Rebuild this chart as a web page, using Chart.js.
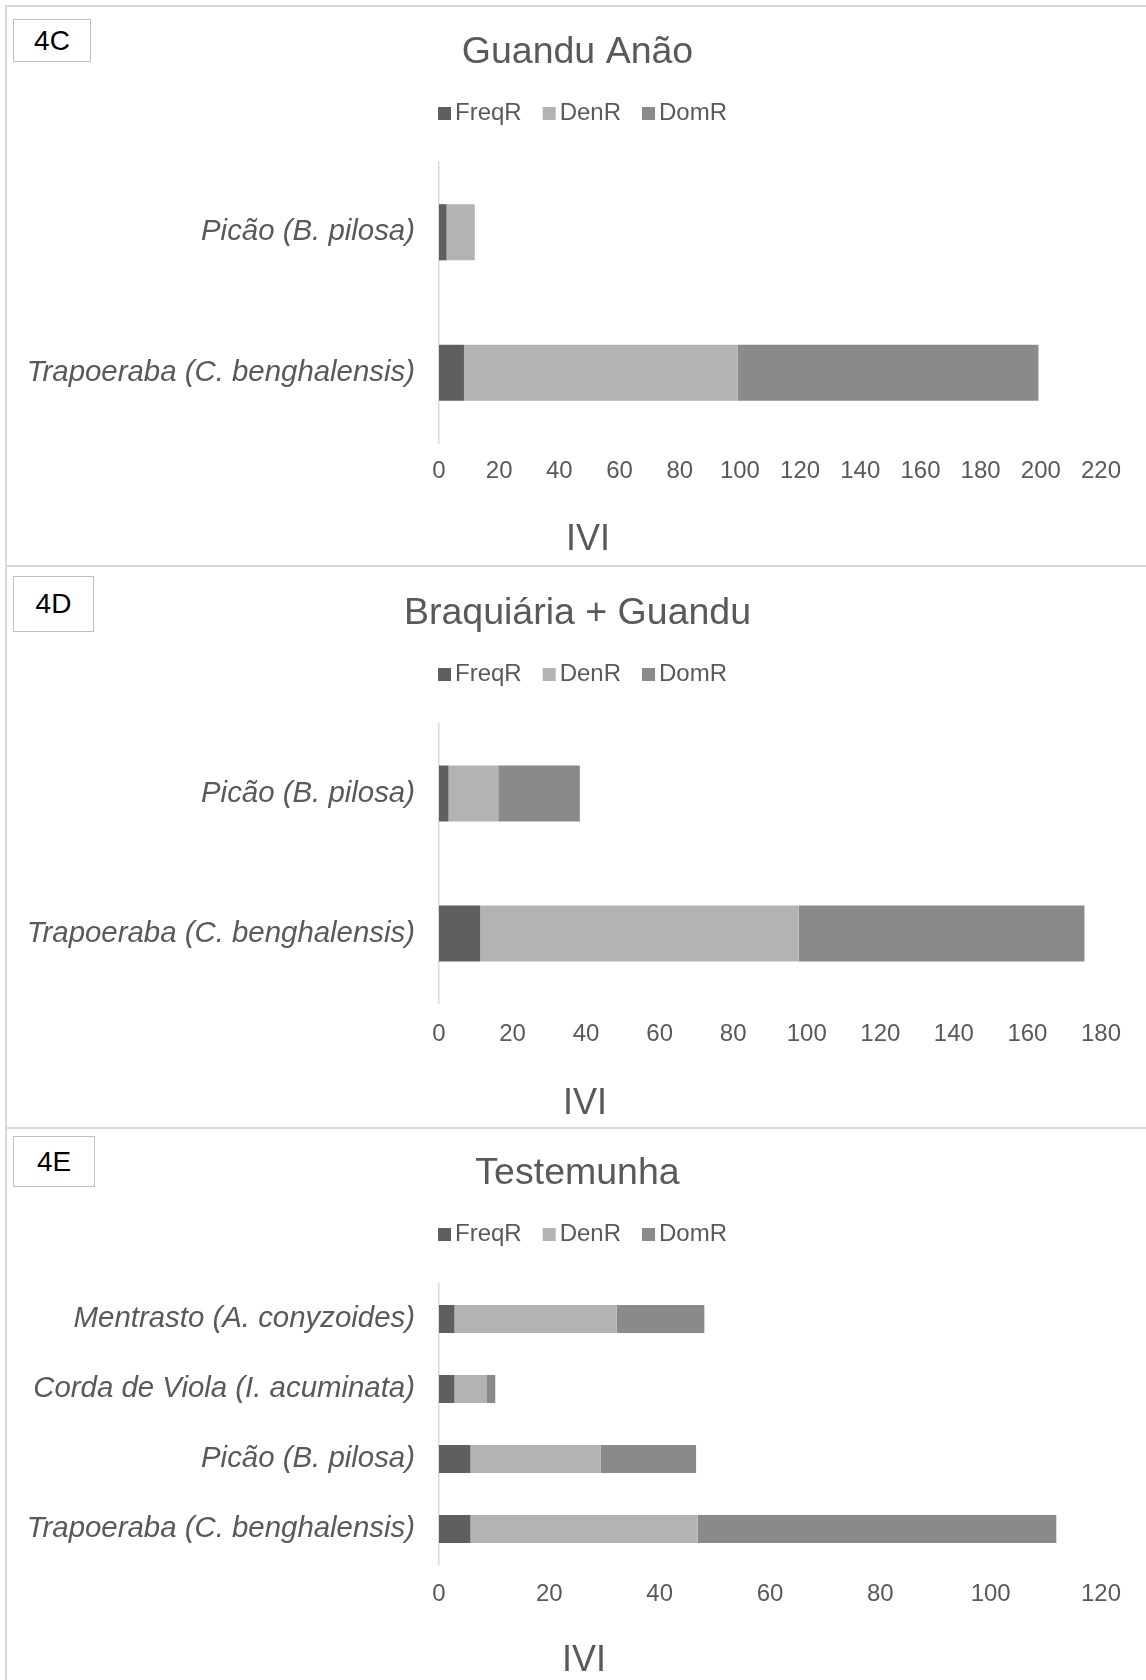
<!DOCTYPE html>
<html>
<head>
<meta charset="utf-8">
<script src="https://cdn.jsdelivr.net/npm/chart.js@4.4.1/dist/chart.umd.min.js"></script>
<style>
  html, body { margin: 0; padding: 0; background: #fff; width: 1146px; height: 1680px; overflow: hidden; }
  .panel { position: absolute; left: 5px; width: 1144px; border: 2px solid #d9d9d9; box-sizing: border-box; background: #fff; }
  .panel canvas { position: absolute; left: 0; top: 0; }
  .tag { position: absolute; border: 1px solid #bfbfbf; box-sizing: border-box; background: #fff;
         font: 28px "Liberation Sans", Arial, sans-serif; color: #000;
         display: flex; align-items: center; justify-content: center; }
</style>
</head>
<body>
<div class="panel" style="top:5px;height:562px">
  <canvas id="chartC" width="1140" height="558"></canvas>
  <div class="tag" style="left:6px;top:12px;width:78px;height:43px">4C</div>
</div>
<div class="panel" style="top:565px;height:564px">
  <canvas id="chartD" width="1140" height="560"></canvas>
  <div class="tag" style="left:6px;top:9px;width:81px;height:56px">4D</div>
</div>
<div class="panel" style="top:1127px;height:600px">
  <canvas id="chartE" width="1140" height="596"></canvas>
  <div class="tag" style="left:6px;top:7px;width:82px;height:51px">4E</div>
</div>

<script>
// Series shown in every panel
const seriesNames = ['FreqR', 'DenR', 'DomR'];
const axisTitle = 'IVI';
const tickStep = 20;

// 4C – Guandu Anão
const guanduTitle = 'Guandu Anão';
const guanduSpecies = ['Picão (B. pilosa)', 'Trapoeraba (C. benghalensis)'];
const guanduFreqR = [2.5, 8.3];
const guanduDenR  = [9.4, 90.9];
const guanduDomR  = [0, 100.0];
const guanduMax = 220;

// 4D – Braquiária + Guandu
const braqTitle = 'Braquiária + Guandu';
const braqSpecies = ['Picão (B. pilosa)', 'Trapoeraba (C. benghalensis)'];
const braqFreqR = [2.6, 11.2];
const braqDenR  = [13.5, 86.6];
const braqDomR  = [22.2, 77.7];
const braqMax = 180;

// 4E – Testemunha
const testTitle = 'Testemunha';
const testSpecies = ['Mentrasto (A. conyzoides)', 'Corda de Viola (I. acuminata)', 'Picão (B. pilosa)', 'Trapoeraba (C. benghalensis)'];
const testFreqR = [2.8, 2.8, 5.7, 5.7];
const testDenR  = [29.4, 5.9, 23.6, 41.2];
const testDomR  = [15.9, 1.5, 17.3, 65.0];
const testMax = 120;

const FONT = '"Liberation Sans", Arial, sans-serif';
const TEXT = '#595959';
const COLORS = ['#5f5f5f', '#b3b3b3', '#8a8a8a'];

// Draws the panel heading, the Excel-style legend row and the value-axis caption.
const panelText = {
  id: 'panelText',
  afterDraw(chart, args, o) {
    const ctx = chart.ctx;
    ctx.save();
    ctx.textBaseline = 'middle';
    ctx.fillStyle = TEXT;
    ctx.textAlign = 'center';
    ctx.font = '37.5px ' + FONT;
    ctx.fillText(o.title, o.titleX, o.titleY);

    ctx.font = '24px ' + FONT;
    ctx.textAlign = 'left';
    let x = o.legendX;
    chart.data.datasets.forEach(ds => {
      ctx.fillStyle = ds.backgroundColor;
      ctx.fillRect(x, o.legendY - 6, 13, 13);
      x += 13 + 4;
      ctx.fillStyle = TEXT;
      ctx.fillText(ds.label, x, o.legendY);
      x += ctx.measureText(ds.label).width + 21;
    });

    ctx.textAlign = 'center';
    ctx.font = '36px ' + FONT;
    ctx.fillText(axisTitle, o.axisX, o.axisY);
    ctx.restore();
  }
};

function buildPanel(canvasId, title, species, freq, den, dom, maxValue, place) {
  const values = [freq, den, dom];
  const canvas = document.getElementById(canvasId);
  return new Chart(canvas, {
    type: 'bar',
    data: {
      labels: species,
      datasets: seriesNames.map((name, i) => ({
        label: name,
        data: values[i],
        backgroundColor: COLORS[i],
        borderWidth: 0,
        barPercentage: 0.4,
        categoryPercentage: 1.0
      }))
    },
    plugins: [panelText],
    options: {
      responsive: false,
      animation: false,
      indexAxis: 'y',
      layout: { padding: { top: place.top, bottom: canvas.height - place.bottom - 50, left: 0, right: 46 } },
      plugins: {
        legend: { display: false },
        title: { display: false },
        tooltip: { enabled: false },
        panelText: {
          title: title, titleX: 570.5, titleY: place.titleY,
          legendX: 431, legendY: place.legendY,
          axisX: place.axisX, axisY: place.axisY
        }
      },
      scales: {
        x: {
          stacked: true,
          min: 0,
          max: maxValue,
          ticks: { stepSize: tickStep, color: TEXT, font: { size: 24, family: FONT }, padding: place.tickPad, maxRotation: 0, autoSkip: false },
          grid: { display: false, drawTicks: false },
          border: { display: false },
          afterFit: s => { s.height = 50; }
        },
        y: {
          stacked: true,
          ticks: { color: TEXT, font: { size: 29.4, style: 'italic', family: FONT }, padding: 24 },
          grid: { display: false, drawTicks: false },
          border: { display: true, color: '#d9d9d9', width: 1.5 },
          afterFit: s => { s.width = 432; }
        }
      }
    }
  });
}

buildPanel('chartC', guanduTitle, guanduSpecies, guanduFreqR, guanduDenR, guanduDomR, guanduMax,
  { top: 155, bottom: 436, titleY: 45.5, legendY: 106, tickPad: 14.4, axisX: 581, axisY: 533 });
buildPanel('chartD', braqTitle, braqSpecies, braqFreqR, braqDenR, braqDomR, braqMax,
  { top: 156.5, bottom: 436.5, titleY: 46.5, legendY: 107, tickPad: 16.6, axisX: 578, axisY: 537 });
buildPanel('chartE', testTitle, testSpecies, testFreqR, testDenR, testDomR, testMax,
  { top: 155, bottom: 435, titleY: 45, legendY: 105, tickPad: 15.5, axisX: 577, axisY: 532 });
</script>
</body>
</html>
